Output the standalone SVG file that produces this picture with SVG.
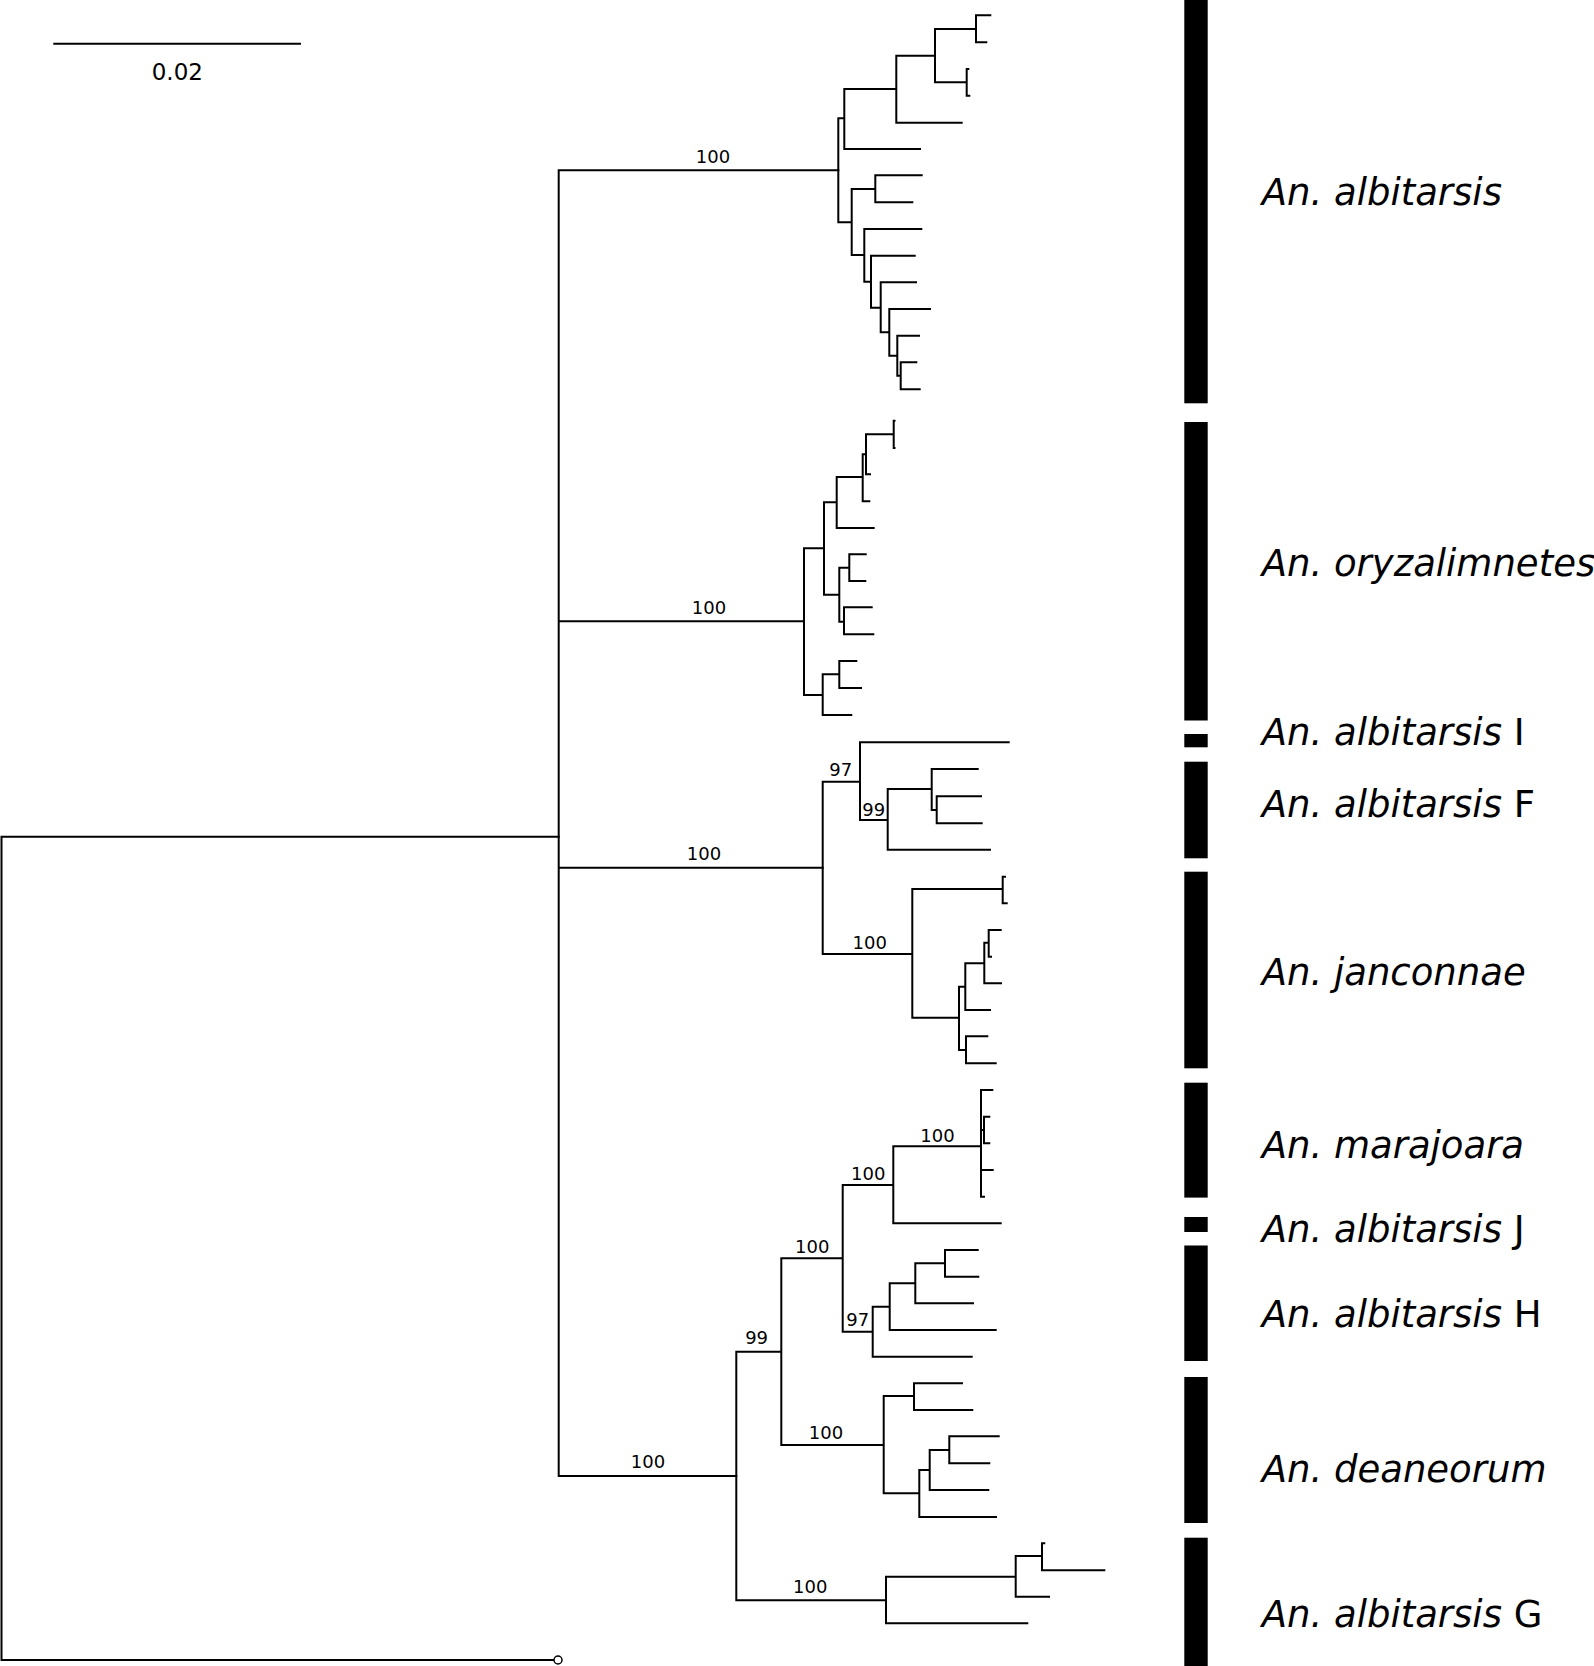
<svg xmlns="http://www.w3.org/2000/svg" width="1594" height="1666" viewBox="0 0 1594 1666">
<style>
.br{fill:none;stroke:#000;stroke-width:2;stroke-linecap:square}
.sup{font-family:"DejaVu Sans",sans-serif;font-size:18px;text-anchor:middle;fill:#000}
.lab{font-family:"DejaVu Sans",sans-serif;font-size:37px;fill:#000}
.sp{font-style:oblique}
.bar{fill:#000}
</style>
<rect width="1594" height="1666" fill="#fff"/>
<g id="scale">
<path class="br" d="M54.3 43.7H300"/>
<text x="177.3" y="80" class="sup" style="font-size:23px">0.02</text>
</g>
<g id="connectors">
<path class="br" d="M1.5 836.7V1660M1.5 836.7H558.7M1.5 1660H554"/>
<circle cx="558" cy="1660" r="4" fill="#fff" stroke="#000" stroke-width="1.5"/>
<path class="br" d="M558.7 170.3V1476M558.7 170.3H838.3M558.7 621.3H804M558.7 867.7H822.7M558.7 1476H736.3"/>
<!-- albitarsis -->
<path class="br" d="M838.3 118.3V222.3M838.3 118.3H844.3M838.3 222.3H851.7
M844.3 89V149M844.3 89H896.3M844.3 149H920
M896.3 55.7V122.7M896.3 55.7H935M896.3 122.7H961.7
M935 29V82.3M935 29H976M935 82.3H966.7
M976 15.3V42.3M976 15.3H990.3M976 42.3H986.3
M966.7 69V95.7M966.7 69H968.3M966.7 95.7H969.3
M851.7 189V255M851.7 189H875.3M851.7 255H864.3
M875.3 175.3V202.3M875.3 175.3H921.7M875.3 202.3H912.3
M864.3 229V281.7M864.3 229H921.3M864.3 281.7H871
M871 255.7V307.7M871 255.7H914.7M871 307.7H880.7
M880.7 282.3V332.3M880.7 282.3H916M880.7 332.3H889.3
M889.3 309V355.7M889.3 309H930M889.3 355.7H897.3
M897.3 335.7V375.7M897.3 335.7H919M897.3 375.7H900.7
M900.7 362.3V389.3M900.7 362.3H916.3M900.7 389.3H919.7"/>
<!-- oryzalimnetes -->
<path class="br" d="M804 548.3V695M804 548.3H824M804 695H822.7
M824 502.3V594.7M824 502.3H836.7M824 594.7H839.3
M836.7 477V528M836.7 477H862.7M836.7 528H873.7
M862.7 454.3V501.3M862.7 454.3H866M862.7 501.3H869.3
M866 434.3V474.3M866 434.3H893.7M866 474.3H870
M893.7 420.7V448M893.7 420.7H894.5M893.7 448H894.5
M839.3 567.7V621.7M839.3 567.7H849.3M839.3 621.7H844
M849.3 554.3V581M849.3 554.3H865.7M849.3 581H865.3
M844 607.3V634.3M844 607.3H871.7M844 634.3H873.3
M822.7 674.3V715M822.7 674.3H839.3M822.7 715H851.3
M839.3 661V688M839.3 661H856.3M839.3 688H861"/>
<!-- I / F / janconnae -->
<path class="br" d="M822.7 781.7V954M822.7 781.7H860M822.7 954H912.3
M860 742.3V820M860 742.3H1008.7M860 820H887.7
M887.7 789V849.7M887.7 789H931.7M887.7 849.7H990
M931.7 769V810M931.7 769H977.7M931.7 810H936.7
M936.7 796.3V823.3M936.7 796.3H981M936.7 823.3H981.7
M912.3 889V1017.7M912.3 889H1002.7M912.3 1017.7H959
M1002.7 876.7V903.3M1002.7 876.7H1005M1002.7 903.3H1006.7
M959 986.7V1050M959 986.7H965.3M959 1050H966
M965.3 963.3V1010M965.3 963.3H984.3M965.3 1010H990
M984.3 942.7V983.3M984.3 942.7H988.7M984.3 983.3H1001
M988.7 930V956.7M988.7 930H1000.7M988.7 956.7H991
M966 1036.3V1063.3M966 1036.3H987.3M966 1063.3H995.7"/>
<!-- lower group -->
<path class="br" d="M736.3 1351.7V1600.3M736.3 1351.7H781.3M736.3 1600.3H886
M886 1576.7V1623.3M886 1576.7H1015.7M886 1623.3H1027.3
M1015.7 1556V1596.7M1015.7 1556H1042M1015.7 1596.7H1049
M1042 1543.3V1570.3M1042 1543.3H1044.3M1042 1570.3H1104.3
M781.3 1258.3V1445M781.3 1258.3H842.7M781.3 1445H883.7
M883.7 1396V1493.3M883.7 1396H914M883.7 1493.3H919.3
M914 1383.3V1410M914 1383.3H962M914 1410H972.3
M919.3 1470V1517M919.3 1470H929.7M919.3 1517H996
M929.7 1450V1490M929.7 1450H949.3M929.7 1490H988.3
M949.3 1436.3V1463.3M949.3 1436.3H998.7M949.3 1463.3H989.3
M842.7 1185V1331.7M842.7 1185H893.3M842.7 1331.7H872.7
M893.3 1146.3V1223.3M893.3 1146.3H981M893.3 1223.3H1000.7
M981 1090V1196.7M981 1090H992.3M981 1130H984M981 1170H992.7M981 1196.7H984
M984 1116.7V1143.3M984 1116.7H989.3M984 1143.3H989.3
M872.7 1306.7V1356.7M872.7 1306.7H889.7M872.7 1356.7H971.7
M889.7 1283.3V1330M889.7 1283.3H915.3M889.7 1330H995.7
M915.3 1263.3V1303.3M915.3 1263.3H945M915.3 1303.3H973
M945 1250V1276.7M945 1250H977.7M945 1276.7H978.3"/>
</g>
<g id="support">
<text class="sup" x="713" y="162.6">100</text>
<text class="sup" x="709" y="613.6">100</text>
<text class="sup" x="704" y="860">100</text>
<text class="sup" x="840.8" y="775.7">97</text>
<text class="sup" x="873.7" y="815.7">99</text>
<text class="sup" x="869.7" y="949">100</text>
<text class="sup" x="937.5" y="1141.7">100</text>
<text class="sup" x="868.3" y="1180">100</text>
<text class="sup" x="812.3" y="1252.7">100</text>
<text class="sup" x="857.7" y="1326">97</text>
<text class="sup" x="756.6" y="1344">99</text>
<text class="sup" x="826" y="1439">100</text>
<text class="sup" x="810.3" y="1593.3">100</text>
<text class="sup" x="648" y="1468">100</text>
</g>
<g id="clade-albitarsis"><rect class="bar" x="1184.3" y="0" width="23.4" height="403.3"/><text class="lab" x="1261.7" y="205"><tspan class="sp">An. albitarsis</tspan></text></g>
<g id="clade-oryzalimnetes"><rect class="bar" x="1184.3" y="422" width="23.4" height="298.5"/><text class="lab" x="1261.7" y="576"><tspan class="sp">An. oryzalimnetes</tspan></text></g>
<g id="clade-albitarsis-I"><rect class="bar" x="1184.3" y="734" width="23.4" height="13.3"/><text class="lab" x="1261.7" y="745"><tspan class="sp">An. albitarsis</tspan> I</text></g>
<g id="clade-albitarsis-F"><rect class="bar" x="1184.3" y="761.7" width="23.4" height="96.6"/><text class="lab" x="1261.7" y="817.3"><tspan class="sp">An. albitarsis</tspan> F</text></g>
<g id="clade-janconnae"><rect class="bar" x="1184.3" y="871.7" width="23.4" height="196.6"/><text class="lab" x="1261.7" y="985"><tspan class="sp">An. janconnae</tspan></text></g>
<g id="clade-marajoara"><rect class="bar" x="1184.3" y="1082.7" width="23.4" height="114.9"/><text class="lab" x="1261.7" y="1157.6"><tspan class="sp">An. marajoara</tspan></text></g>
<g id="clade-albitarsis-J"><rect class="bar" x="1184.3" y="1217" width="23.4" height="15"/><text class="lab" x="1261.7" y="1241.5"><tspan class="sp">An. albitarsis</tspan> J</text></g>
<g id="clade-albitarsis-H"><rect class="bar" x="1184.3" y="1245.5" width="23.4" height="115.5"/><text class="lab" x="1261.7" y="1326.5"><tspan class="sp">An. albitarsis</tspan> H</text></g>
<g id="clade-deaneorum"><rect class="bar" x="1184.3" y="1377" width="23.4" height="146"/><text class="lab" x="1261.7" y="1481.7"><tspan class="sp">An. deaneorum</tspan></text></g>
<g id="clade-albitarsis-G"><rect class="bar" x="1184.3" y="1537.7" width="23.4" height="128.3"/><text class="lab" x="1261.7" y="1627.3"><tspan class="sp">An. albitarsis</tspan> G</text></g>
</svg>
